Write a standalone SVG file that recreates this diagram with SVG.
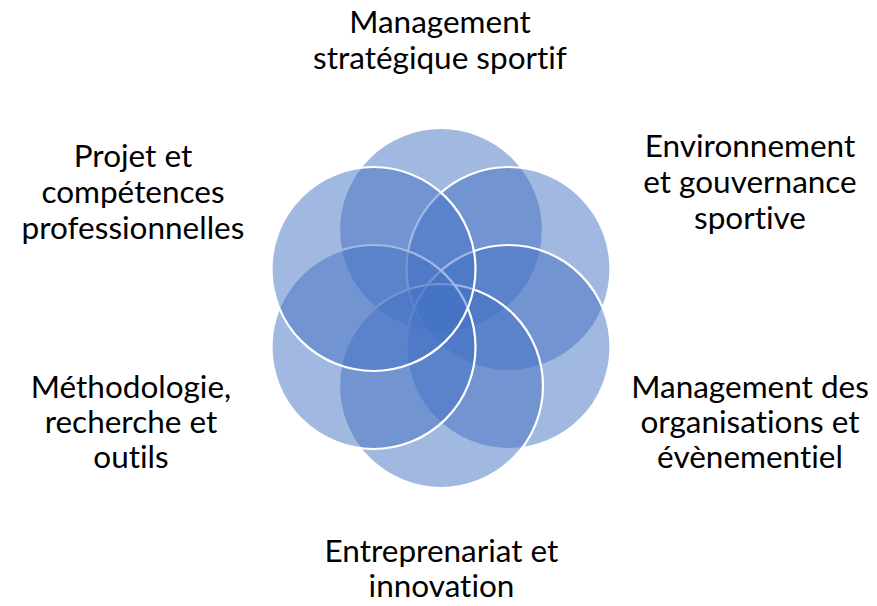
<svg xmlns="http://www.w3.org/2000/svg" width="877" height="606" viewBox="0 0 877 606">
<style>
.c{fill:rgba(68,114,196,0.5);stroke:#fff;stroke-width:2.2}
.t{font-family:Lato,"Open Sans","Liberation Sans",sans-serif;font-size:31.5px;fill:#000;text-anchor:middle;font-variant-ligatures:none}
</style>
<rect width="877" height="606" fill="#fff"/>
<g id="node-top"><circle class="c" cx="441" cy="230" r="102"/></g>
<g id="node-topright"><circle class="c" cx="508.5" cy="269" r="102"/></g>
<g id="node-bottomright"><circle class="c" cx="508.5" cy="347" r="102"/></g>
<g id="node-bottom"><circle class="c" cx="441" cy="386" r="102"/></g>
<g id="node-bottomleft"><circle class="c" cx="373.5" cy="347" r="102"/></g>
<g id="node-topleft"><circle class="c" cx="373.5" cy="269" r="102"/></g>
<g id="labels">
<text class="t"><tspan x="440" y="33">Management</tspan><tspan x="440" y="69">stratégique sportif</tspan></text>
<text class="t"><tspan x="750" y="157">Environnement</tspan><tspan x="750" y="193">et gouvernance</tspan><tspan x="750" y="229">sportive</tspan></text>
<text class="t"><tspan x="750" y="398">Management des</tspan><tspan x="750" y="433">organisations et</tspan><tspan x="750" y="468">évènementiel</tspan></text>
<text class="t"><tspan x="441.5" y="561.5">Entreprenariat et</tspan><tspan x="441.5" y="597">innovation</tspan></text>
<text class="t"><tspan x="131" y="398">Méthodologie,</tspan><tspan x="131" y="433">recherche et</tspan><tspan x="131" y="468">outils</tspan></text>
<text class="t"><tspan x="133" y="167">Projet et</tspan><tspan x="133" y="203">compétences</tspan><tspan x="133" y="239">professionnelles</tspan></text>
</g>
<g id="connectors"></g>
</svg>
